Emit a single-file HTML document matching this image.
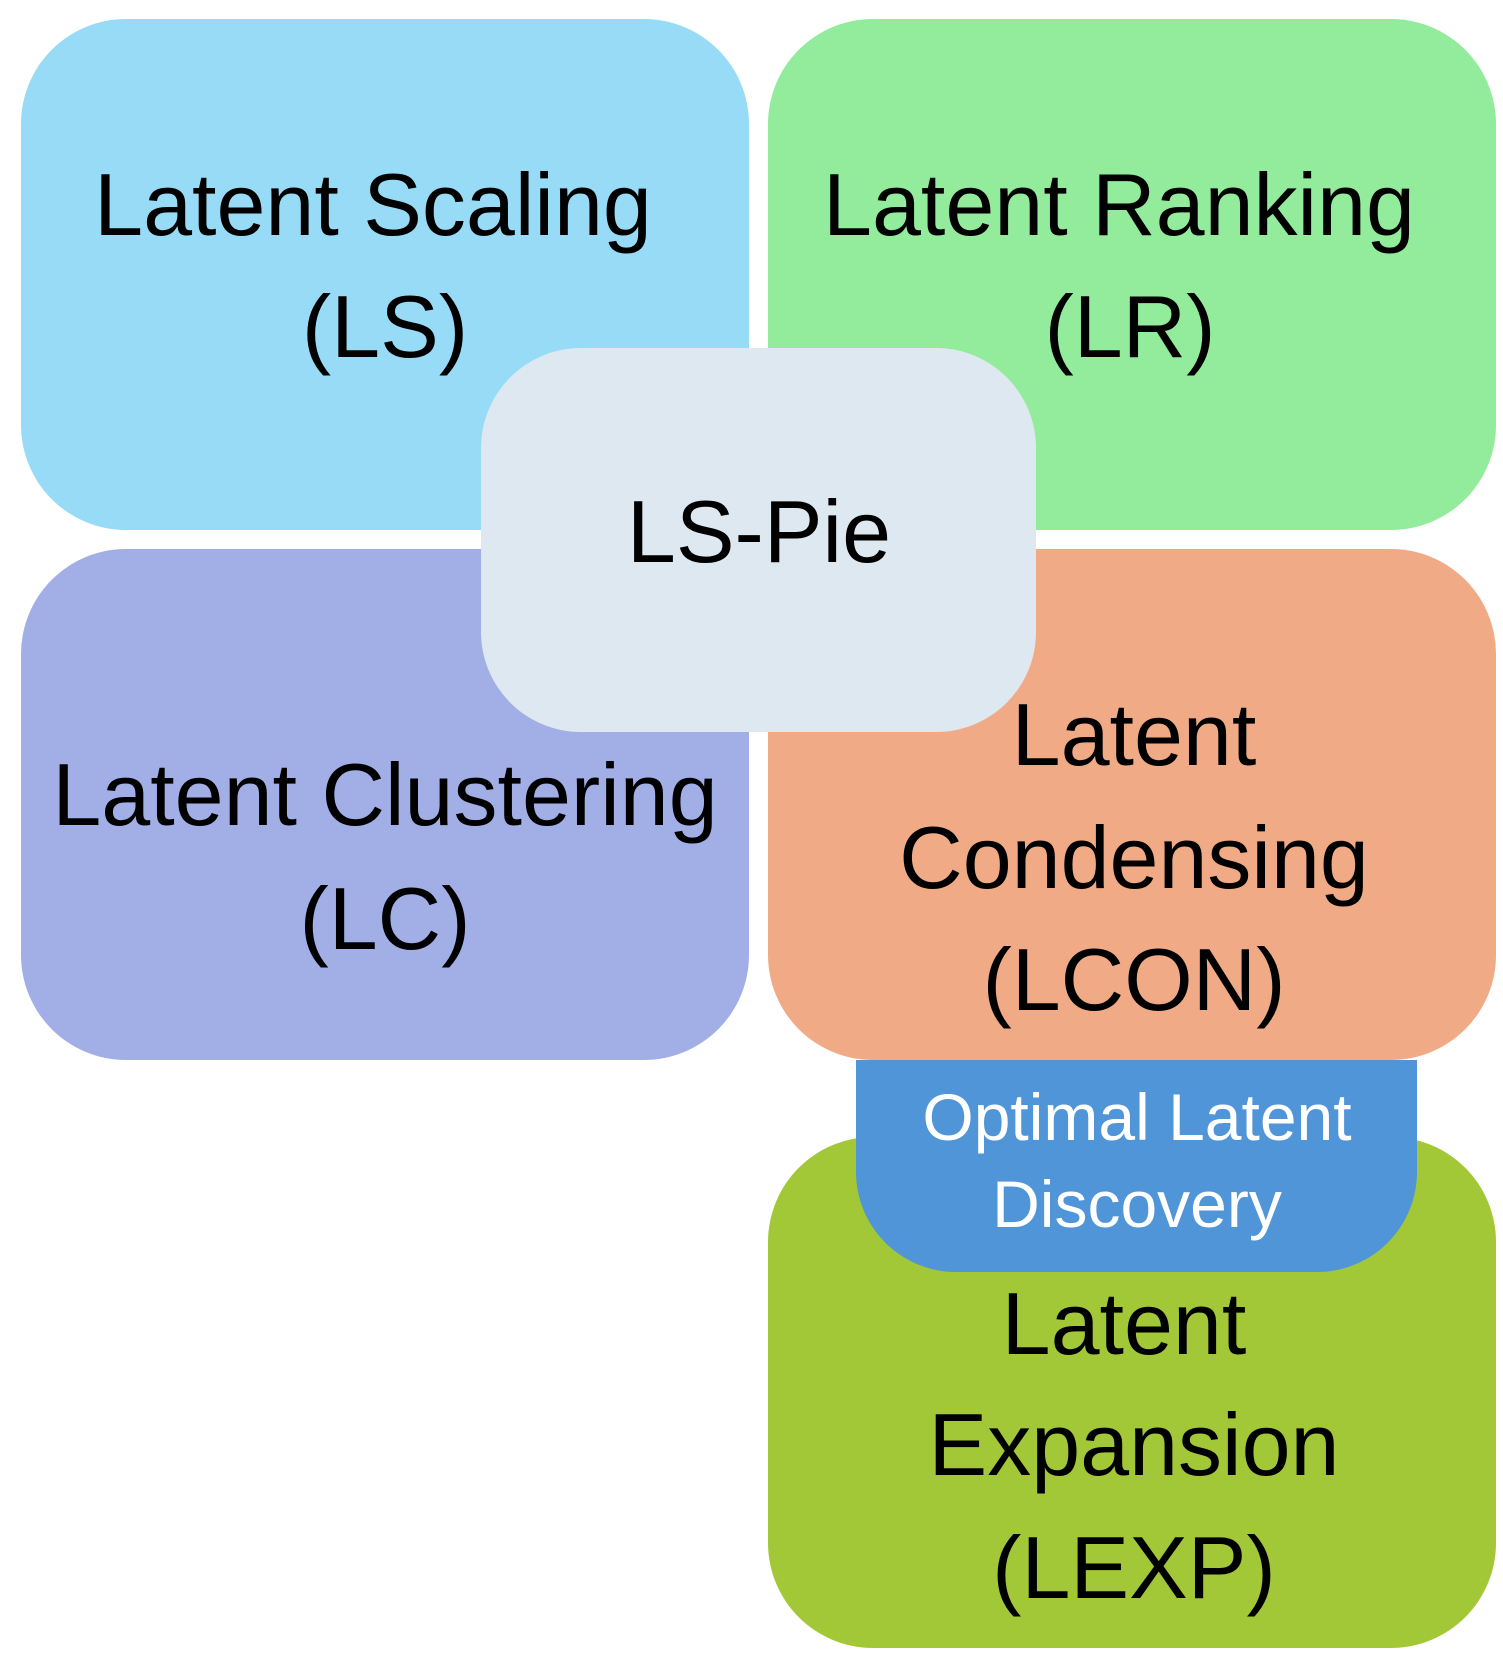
<!DOCTYPE html>
<html><head><meta charset="utf-8"><style>html,body{margin:0;padding:0;background:#fff}svg{display:block}</style></head>
<body>
<svg width="1503" height="1653" viewBox="0 0 1503 1653" xmlns="http://www.w3.org/2000/svg" font-family="Liberation Sans, Arial, sans-serif">
<rect x="21" y="19" width="728" height="511" rx="105" fill="#97DBF6"/>
<rect x="768" y="19" width="728" height="511" rx="105" fill="#93EC9C"/>
<rect x="21" y="549" width="728" height="511" rx="105" fill="#A1AFE6"/>
<rect x="768" y="549" width="728" height="511" rx="105" fill="#F0AB86"/>
<rect x="768" y="1137" width="728" height="511" rx="105" fill="#A2C837"/>
<rect x="481" y="348" width="555" height="384" rx="100" fill="#DEE8F0"/>
<path d="M856 1060 H1417 V1172 A100 100 0 0 1 1317 1272 H956 A100 100 0 0 1 856 1172 Z" fill="#5095D8"/>
<g font-size="88" fill="#000" text-anchor="middle">
<text x="373" y="235">Latent Scaling</text>
<text x="385" y="357">(LS)</text>
<text x="1119" y="235">Latent Ranking</text>
<text x="1130" y="357">(LR)</text>
<text x="385" y="825">Latent Clustering</text>
<text x="385" y="949">(LC)</text>
<text x="1134" y="765">Latent</text>
<text x="1134" y="888">Condensing</text>
<text x="1134" y="1010">(LCON)</text>
<text x="1124" y="1354">Latent</text>
<text x="1134" y="1475">Expansion</text>
<text x="1134" y="1598">(LEXP)</text>
<text x="759" y="562">LS-Pie</text>
</g>
<g font-size="66" fill="#fff" text-anchor="middle">
<text x="1137" y="1140">Optimal Latent</text>
<text x="1137" y="1227">Discovery</text>
</g>
</svg>
</body></html>
